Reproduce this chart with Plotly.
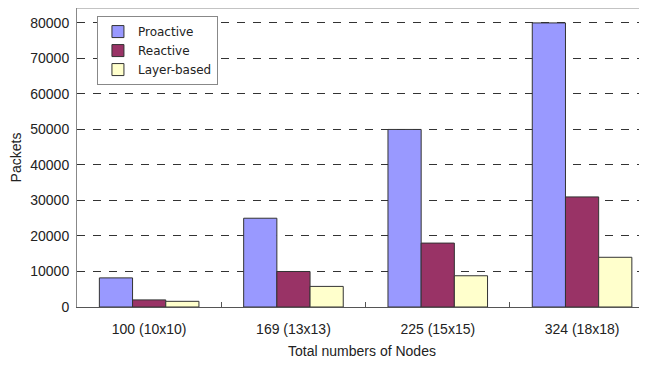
"""
Packets per network size for three routing approaches
"""
import plotly.graph_objects as go

nodes = ["100 (10x10)", "169 (13x13)", "225 (15x15)", "324 (18x18)"]
proactive = [8200, 25000, 50000, 80000]
reactive = [2000, 10000, 18000, 31000]
layer_based = [1600, 5800, 8800, 14000]

series = [
    ("Proactive", proactive, "#9999ff"),
    ("Reactive", reactive, "#993366"),
    ("Layer-based", layer_based, "#ffffcc"),
]

fig = go.Figure()
for name, vals, col in series:
    fig.add_trace(
        go.Bar(
            x=nodes,
            y=vals,
            name=name,
            marker=dict(color=col, line=dict(color="#333333", width=1)),
        )
    )

# page body has an 8px margin, so the figure is sized to fill the rest
font = "Liberation Sans, Arial, sans-serif"
fig.update_layout(
    width=639,
    height=357,
    autosize=False,
    margin=dict(l=69, r=0, t=0, b=58, autoexpand=False),
    paper_bgcolor="white",
    plot_bgcolor="white",
    barmode="group",
    bargap=0.31,
    bargroupgap=0,
    font=dict(family=font, size=13, color="#222222"),
    legend=dict(
        x=0.035,
        y=0.973,
        xanchor="left",
        yanchor="top",
        bgcolor="white",
        bordercolor="#888888",
        borderwidth=1,
        font=dict(family="DejaVu Sans, sans-serif", size=12, color="#222222"),
        tracegroupgap=0,
        itemwidth=30,
    ),
    xaxis=dict(
        automargin=False,
        range=[-0.5, 3.45],
        tickson="boundaries",
        ticks="inside",
        ticklen=5,
        tickcolor="#555555",
        showline=True,
        linecolor="#555555",
        linewidth=1,
        mirror=False,
        ticklabelstandoff=9,
        title=dict(text="Total numbers of Nodes", font=dict(size=14), standoff=10),
        tickfont=dict(size=14),
    ),
    yaxis=dict(
        automargin=False,
        range=[0, 84200],
        dtick=10000,
        tickformat="d",
        showgrid=True,
        gridcolor="#333333",
        griddash="8px,8px",
        gridwidth=1,
        showline=True,
        linecolor="#888888",
        zeroline=False,
        ticks="",
        ticklabelstandoff=4,
        title=dict(text="Packets", font=dict(size=14), standoff=10),
        tickfont=dict(size=14),
    ),
)

# top border of the plot area
fig.add_shape(
    type="line", xref="paper", yref="paper", x0=0, x1=1, y0=1, y1=1,
    line=dict(color="#888888", width=1),
)

fig.write_html("out.html")
